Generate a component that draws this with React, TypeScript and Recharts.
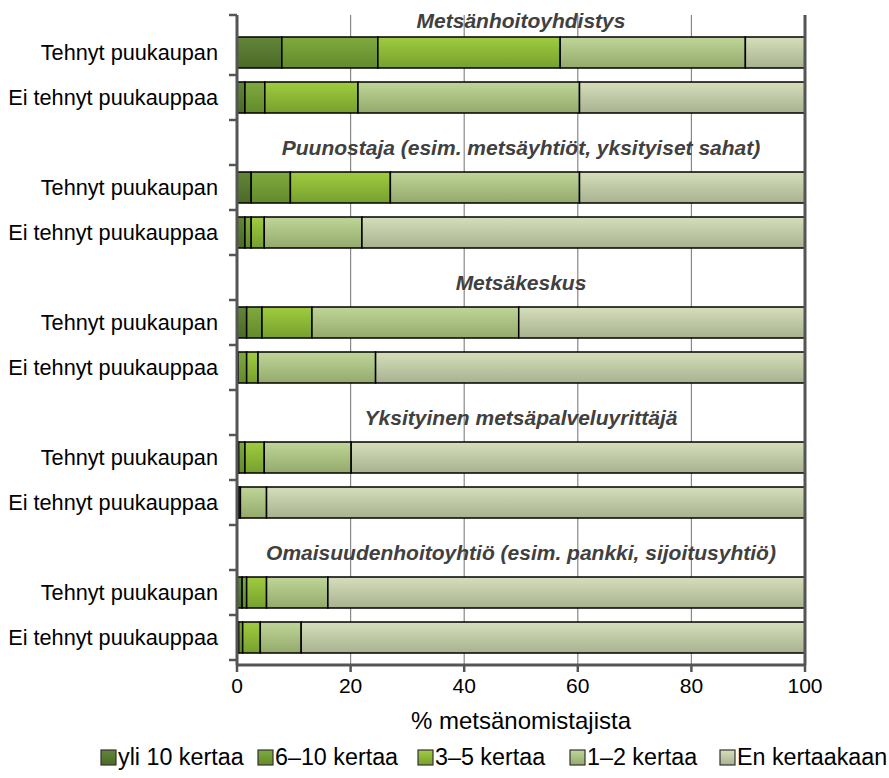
import React from 'react';
import { BarChart, Bar, XAxis, YAxis, CartesianGrid, ReferenceLine } from 'recharts';

const groups = [
  'Metsänhoitoyhdistys',
  'Puunostaja (esim. metsäyhtiöt, yksityiset sahat)',
  'Metsäkeskus',
  'Yksityinen metsäpalveluyrittäjä',
  'Omaisuudenhoitoyhtiö (esim. pankki, sijoitusyhtiö)',
];
const rowLabels = ['Tehnyt puukaupan', 'Ei tehnyt puukauppaa'];
const xTicks = [0, 20, 40, 60, 80, 100];

// two rows per group: Tehnyt, Ei tehnyt
const yli10 = [7.9, 1.4, 2.5, 1.4, 1.7, 0.2, 0.3, 0.1, 0.9, 0.3];
const k6_10 = [16.9, 3.5, 6.9, 1.1, 2.7, 1.5, 1.1, 0.2, 0.8, 0.7];
const k3_5 = [32.1, 16.4, 17.6, 2.3, 8.8, 2.0, 3.4, 0.3, 3.5, 3.1];
const k1_2 = [32.6, 39.0, 33.3, 17.2, 36.4, 20.7, 15.3, 4.6, 10.8, 7.2];
const enKertaa = [10.5, 39.7, 39.7, 78.0, 50.4, 75.6, 79.9, 94.8, 84.0, 88.7];

const series = [
  { key: 'yli10', name: 'yli 10 kertaa', values: yli10, top: '#62863a', bottom: '#4c6a26' },
  { key: 'k6_10', name: '6–10 kertaa', values: k6_10, top: '#7faa3e', bottom: '#638a2c' },
  { key: 'k3_5', name: '3–5 kertaa', values: k3_5, top: '#a0cc40', bottom: '#76a02e' },
  { key: 'k1_2', name: '1–2 kertaa', values: k1_2, top: '#c0d698', bottom: '#94aa6c' },
  { key: 'en', name: 'En kertaakaan', values: enKertaa, top: '#d6deba', bottom: '#a8b290' },
];

type Row = { key: string; label?: string; title?: string; titleAbove?: string; [k: string]: any };

const data: Row[] = [];
groups.forEach((g, gi) => {
  if (gi > 0) data.push({ key: `title-${gi}`, title: g });
  rowLabels.forEach((lab, ri) => {
    const idx = gi * 2 + ri;
    const row: Row = { key: `row-${idx}`, label: lab };
    if (gi === 0 && ri === 0) row.titleAbove = g;
    series.forEach((s) => (row[s.key] = s.values[idx]));
    data.push(row);
  });
});
const rowByKey: Record<string, Row> = {};
data.forEach((r) => (rowByKey[r.key] = r));

const AXIS_X = 237;
const PLOT_CX = 521;
const BAND = 45;
const legendLeft = [100, 257, 417, 569, 719];

const YTick = (props: any) => {
  const { y, payload, index } = props;
  const row = rowByKey[payload.value];
  const tickY = index === 0 ? y - 37.5 : y - BAND / 2;
  return (
    <g>
      <line x1={AXIS_X - 8} x2={AXIS_X} y1={tickY} y2={tickY} stroke="#555" strokeWidth={2.5} />
      {index === data.length - 1 && (
        <line x1={AXIS_X - 8} x2={AXIS_X} y1={y + BAND / 2} y2={y + BAND / 2} stroke="#555" strokeWidth={2.5} />
      )}
      {row.label && (
        <text x={218} y={y} textAnchor="end" dominantBaseline="central" fontSize={21.7} fill="#000">
          {row.label}
        </text>
      )}
      {row.title && (
        <text x={PLOT_CX} y={y + 5} textAnchor="middle" dominantBaseline="central" fontSize={21}
          fontWeight="bold" fontStyle="italic" fill="#404040">
          {row.title}
        </text>
      )}
      {row.titleAbove && (
        <text x={PLOT_CX} y={y - 32} textAnchor="middle" dominantBaseline="central" fontSize={21}
          fontWeight="bold" fontStyle="italic" fill="#404040">
          {row.titleAbove}
        </text>
      )}
    </g>
  );
};

export default function App() {
  return (
    <div style={{ position: 'absolute', left: 0, top: 0, width: 889, height: 778, background: '#fff',
      fontFamily: '"Liberation Sans", Arial, sans-serif' }}>
      <BarChart
        width={889}
        height={778}
        data={data}
        layout="vertical"
        margin={{ top: 15, right: 84, bottom: 43, left: 0 }}
        barSize={31}
      >
        <defs>
          {series.map((s) => (
            <linearGradient key={s.key} id={`g-${s.key}`} x1="0" y1="0" x2="0" y2="1">
              <stop offset="0%" stopColor={s.top} />
              <stop offset="100%" stopColor={s.bottom} />
            </linearGradient>
          ))}
        </defs>
        <CartesianGrid horizontal={false} stroke="#888" strokeWidth={1.2} />
        <XAxis
          type="number"
          domain={[0, 100]}
          ticks={xTicks}
          height={70}
          tickSize={7}
          tickMargin={6}
          tickLine={{ stroke: '#555', strokeWidth: 2.5 }}
          axisLine={{ stroke: '#555', strokeWidth: 3 }}
          tick={{ fill: '#000', fontSize: 21 }}
          label={{ value: '% metsänomistajista', position: 'insideBottom', offset: 6, fill: '#000', fontSize: 24 }}
        />
        <YAxis
          type="category"
          dataKey="key"
          width={237}
          padding={{ top: 15, bottom: 5 }}
          tickLine={false}
          axisLine={{ stroke: '#555', strokeWidth: 3 }}
          tick={<YTick />}
          interval={0}
        />
        <ReferenceLine x={100} stroke="#555" strokeWidth={3} />
        {series.map((s) => (
          <Bar
            key={s.key}
            dataKey={s.key}
            name={s.name}
            stackId="a"
            fill={`url(#g-${s.key})`}
            stroke="#000"
            strokeWidth={1.5}
            isAnimationActive={false}
          />
        ))}
      </BarChart>
      {series.map((s, i) => (
        <div key={s.key} style={{ position: 'absolute', left: legendLeft[i], top: 745, height: 24,
          display: 'flex', alignItems: 'center', fontSize: 23.3, color: '#000', whiteSpace: 'nowrap' }}>
          <svg width={17} height={17} style={{ marginRight: 1 }}>
            <defs>
              <linearGradient id={`lg-${s.key}`} x1="0" y1="0" x2="0" y2="1">
                <stop offset="0%" stopColor={s.top} />
                <stop offset="100%" stopColor={s.bottom} />
              </linearGradient>
            </defs>
            <rect x={1} y={1} width={15} height={15} fill={`url(#lg-${s.key})`} stroke="#333" strokeWidth={1.2} />
          </svg>
          <span>{s.name}</span>
        </div>
      ))}
    </div>
  );
}
